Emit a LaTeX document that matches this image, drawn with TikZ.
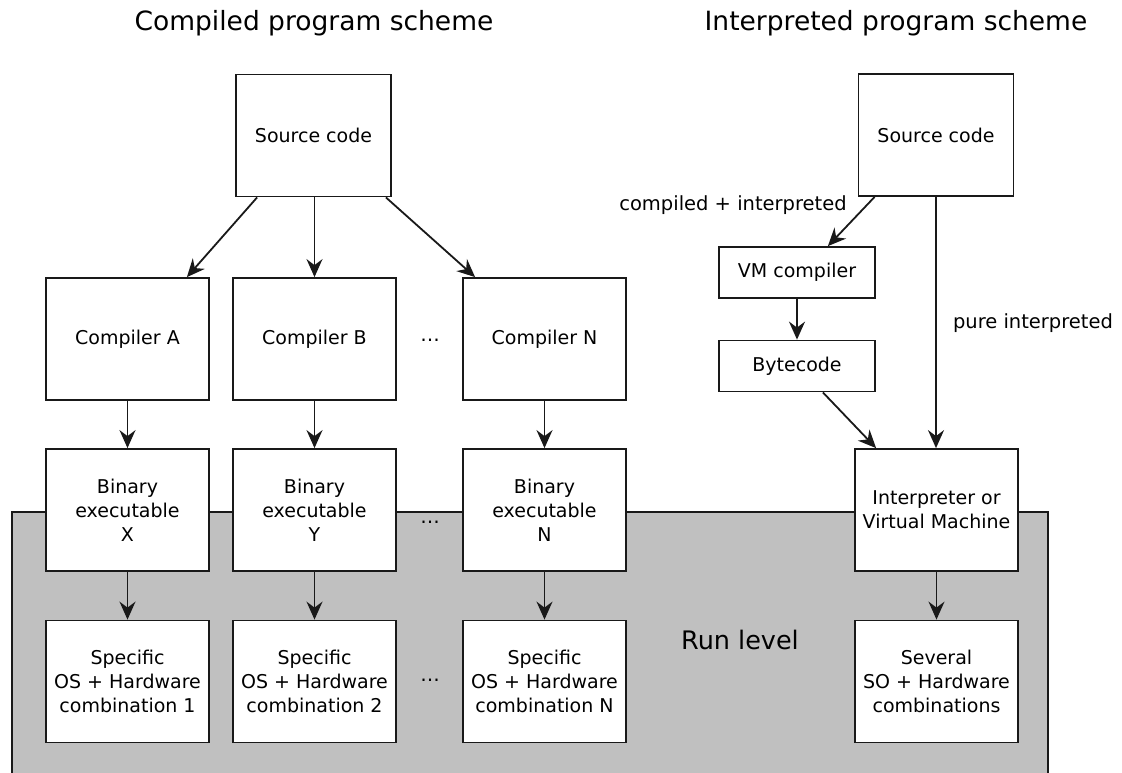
\documentclass[tikz,border=0pt]{standalone}
\usepackage{fontspec}
\setmainfont{DejaVu Sans}
\usetikzlibrary{arrows.meta}
\definecolor{runfill}{RGB}{192,192,192}
\definecolor{ink}{RGB}{25,25,25}
\begin{document}
\begin{tikzpicture}[x=1pt,y=-1pt,
  box/.style={draw=ink, line width=1.8pt, fill=white, align=center,
    inner sep=0pt, font=\fontsize{19}{24}\selectfont},
  tall/.style={box, minimum width=163pt, minimum height=122pt},
  srcbox/.style={box, minimum width=155pt, minimum height=122pt},
  flat/.style={box, minimum width=156pt, minimum height=51pt},
  arr/.style={draw=ink, line width=1.8pt,
    -{Stealth[length=18pt,width=16pt,inset=6pt]}},
  title/.style={font=\fontsize{26.5}{30}\selectfont},
  lbl/.style={font=\fontsize{19.5}{24}\selectfont},
  biglbl/.style={font=\fontsize{25.5}{30}\selectfont},
]
\useasboundingbox (0,0) rectangle (1122,772);

% run level background
\path[fill=runfill, draw=ink, line width=1.6pt] (12,512) rectangle (1048,800);
\node[biglbl] (runlvl) at (740,640) {Run level};

% titles
\node[title] (tcomp) at (314,23) {Compiled program scheme};
\node[title] (tint) at (896,23) {Interpreted program scheme};

% compiled scheme
\node[srcbox] (srcL) at (313.5,135.5) {Source code};
\node[tall] (compA) at (127.5,339) {Compiler A};
\node[tall] (compB) at (314.5,339) {Compiler B};
\node[tall] (compN) at (544.5,339) {Compiler N};
\node[tall] (binX) at (127.5,510) {Binary\\executable\\X};
\node[tall] (binY) at (314.5,510) {Binary\\executable\\Y};
\node[tall] (binN) at (544.5,510) {Binary\\executable\\N};
\node[tall] (hw1) at (127.5,681.5) {Specific\\OS + Hardware\\combination 1};
\node[tall] (hw2) at (314.5,681.5) {Specific\\OS + Hardware\\combination 2};
\node[tall] (hwN) at (544.5,681.5) {Specific\\OS + Hardware\\combination N};
\node[lbl] (dots1) at (430,340) {…};
\node[lbl] (dots2) at (430,522) {…};
\node[lbl] (dots3) at (430,680) {…};

\draw[arr] ([xshift=22pt]srcL.south west) -- ([xshift=-23pt]compA.north east);
\draw[arr] (srcL.south -| compB.north) -- (compB.north);
\draw[arr] ([xshift=-6pt]srcL.south east) -- ([xshift=13pt]compN.north west);
\draw[arr] (compA) -- (binX);
\draw[arr] (compB) -- (binY);
\draw[arr] (compN) -- (binN);
\draw[arr] (binX) -- (hw1);
\draw[arr] (binY) -- (hw2);
\draw[arr] (binN) -- (hwN);

% interpreted scheme
\node[srcbox] (srcR) at (936,135) {Source code};
\node[flat] (vmc) at (797,272.5) {VM compiler};
\node[flat] (byte) at (797,366) {Bytecode};
\node[tall] (interp) at (936.5,510) {Interpreter or\\Virtual Machine};
\node[tall] (several) at (936.5,681.5) {Several\\SO + Hardware\\combinations};
\node[lbl] (lblci) at (733,205) {compiled + interpreted};
\node[lbl] (lblpi) at (1033,323) {pure interpreted};

\draw[arr] ([xshift=17pt]srcR.south west) -- ([xshift=-48pt]vmc.north east);
\draw[arr] (vmc) -- (byte);
\draw[arr] ([xshift=-53pt]byte.south east) -- ([xshift=22pt]interp.north west);
\draw[arr] (srcR.south) -- (srcR.south |- interp.north);
\draw[arr] (interp) -- (several);
\end{tikzpicture}
\end{document}
